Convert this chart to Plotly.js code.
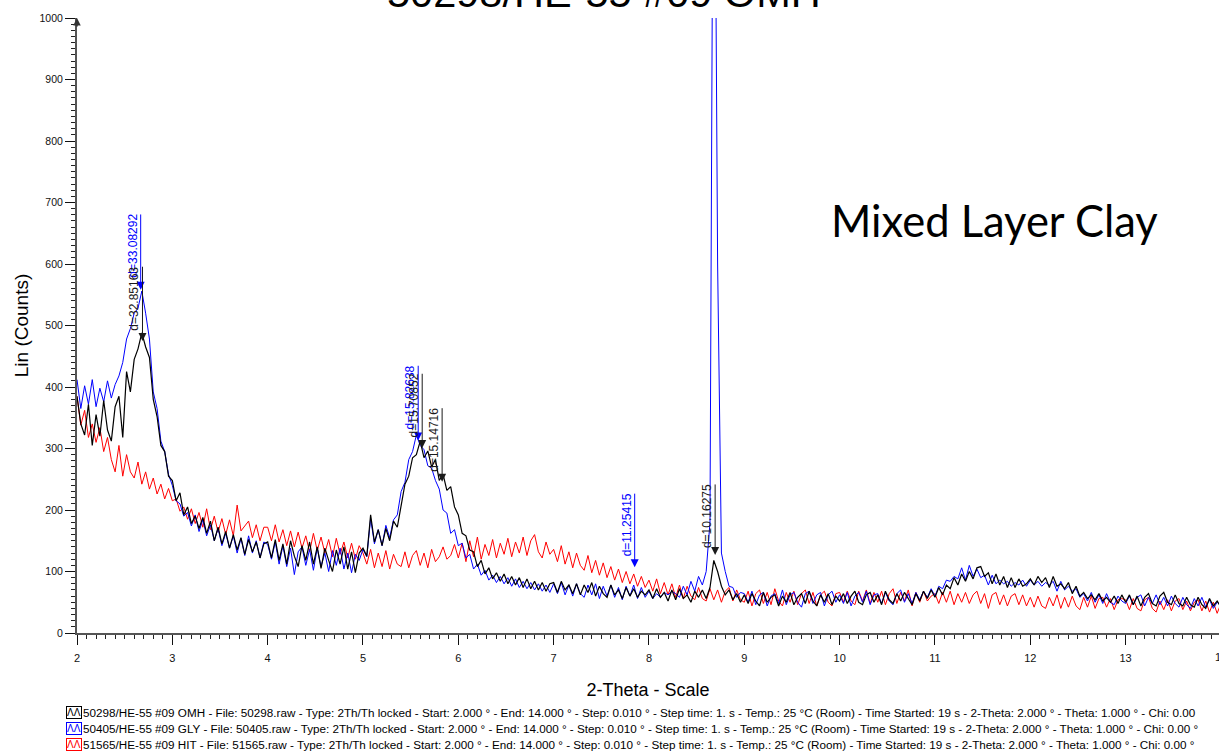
<!DOCTYPE html>
<html><head><meta charset="utf-8">
<script src="https://cdn.plot.ly/plotly-3.0.1.min.js"></script>
<style>html,body{margin:0;padding:0;background:#fff;overflow:hidden}#chart{width:1219px;height:753px}</style>
</head><body><div id="chart"></div>
<script>
// 2-Theta sampling of the scans (degrees)
const thetaStart = 2.0;
const thetaStep = 0.04;

// Counts, one value per 0.04 degrees from 2.00 to 14.00
const countsOMH = [
 385,340,322,372,305,355,320,378,330,312,368,385,318,425,392,445,462,488,465,448,380,352,305,295,255,
 248,215,228,192,205,178,190,170,188,162,182,150,172,145,165,138,160,135,155,128,152,132,148,122,145,
 148,122,152,118,145,112,150,125,108,142,118,148,112,140,105,138,118,100,135,112,140,104,132,98,130,
 138,125,192,148,168,142,170,150,182,172,210,242,255,285,290,312,285,296,270,282,248,258,232,238,205,
 192,162,158,135,132,108,118,96,106,88,98,84,96,80,92,78,90,74,88,72,84,70,82,68,80,
 82,66,84,70,78,64,80,62,78,66,82,60,76,64,58,78,62,70,56,74,60,72,58,68,62,
 70,56,72,58,66,52,70,54,72,56,62,50,68,58,70,56,74,118,100,76,62,70,54,64,50,
 62,48,64,52,44,66,50,58,62,44,60,50,66,46,58,64,48,68,52,44,62,50,64,46,60,
 52,64,48,60,68,50,46,62,66,50,62,46,68,54,48,64,52,66,56,46,64,52,68,56,70,
 58,74,62,78,72,90,78,96,84,100,88,106,108,92,98,80,96,78,92,74,90,74,88,76,80,
 88,78,92,82,90,74,92,76,80,72,82,64,76,60,66,56,62,54,64,52,58,50,60,48,62,
 50,62,46,60,44,58,64,48,44,60,66,50,46,62,48,44,58,46,42,58,46,40,56,44,52,42
];
const countsGLY = [
 412,365,402,372,412,368,398,376,410,382,404,418,440,478,495,520,528,556,520,478,392,365,312,295,258,
 240,215,210,190,196,174,192,165,184,158,176,150,170,142,162,138,158,130,154,126,158,130,150,122,148,
 144,120,148,112,142,108,138,95,132,140,110,136,102,138,108,130,100,134,110,138,104,130,98,128,118,
 136,124,186,145,168,142,175,155,184,192,230,245,282,295,322,305,298,272,268,248,234,200,195,162,168,
 142,146,122,128,104,112,94,102,86,94,82,92,80,90,76,88,74,84,72,82,70,80,68,78,66,
 80,64,82,62,78,60,80,64,58,78,62,80,56,76,60,78,58,74,54,76,60,78,56,74,58,
 68,56,64,58,66,62,68,64,58,76,62,84,68,92,78,100,180,1600,600,130,100,76,74,58,66,
 64,50,68,46,62,66,44,60,64,48,70,46,62,66,50,42,64,68,48,62,66,44,62,68,50,
 62,48,66,44,60,66,50,68,46,62,64,48,66,52,46,64,70,50,64,48,66,54,68,58,72,
 60,76,72,86,84,92,88,106,86,110,92,104,90,94,78,94,80,86,80,84,76,82,78,86,76,
 86,78,84,76,82,78,84,68,84,70,76,68,72,58,64,52,66,50,62,48,64,50,46,60,52,
 48,60,46,58,62,44,58,48,62,46,58,44,60,48,42,58,46,40,56,44,58,42,54,40,50,44
];
const countsHIT = [
 385,338,362,318,340,310,334,295,318,282,262,305,255,290,262,252,278,242,262,234,252,226,242,218,235,
 215,218,198,205,185,202,178,196,172,202,168,190,164,186,160,184,158,208,166,174,182,155,176,150,172,
 172,150,176,148,168,142,166,140,164,138,158,132,162,134,156,130,152,124,154,128,148,122,146,120,142,
 130,112,136,106,130,108,134,104,128,112,108,132,106,126,134,110,130,106,136,116,124,140,120,126,144,
 122,146,116,150,124,156,120,144,126,152,122,146,128,154,124,148,130,156,126,150,160,132,122,148,128,
 136,116,142,112,132,106,130,110,102,126,98,118,94,114,90,108,86,104,82,100,80,96,76,92,74,
 86,68,88,64,82,62,80,58,78,56,76,60,54,74,56,52,72,54,70,50,68,74,52,70,54,
 50,68,44,64,70,48,66,46,72,52,44,66,50,68,46,64,70,48,66,44,62,68,50,44,64,
 66,50,68,52,46,68,52,70,48,66,50,68,46,64,72,48,66,52,70,44,66,50,68,52,60,
 64,48,66,50,68,46,64,50,66,48,62,68,48,64,40,62,66,46,62,44,60,64,46,62,44,
 58,42,60,44,40,58,44,62,40,58,42,60,44,38,58,42,60,40,56,58,42,56,38,54,56,
 54,38,56,40,36,54,58,40,34,52,38,54,36,52,56,38,52,36,50,54,36,52,34,50,32,48
];

const seriesNames = [
 '50298/HE-55 #09 OMH - File: 50298.raw - Type: 2Th/Th locked - Start: 2.000 ° - End: 14.000 ° - Step: 0.010 ° - Step time: 1. s - Temp.: 25 °C (Room) - Time Started: 19 s - 2-Theta: 2.000 ° - Theta: 1.000 ° - Chi: 0.00',
 '50405/HE-55 #09 GLY - File: 50405.raw - Type: 2Th/Th locked - Start: 2.000 ° - End: 14.000 ° - Step: 0.010 ° - Step time: 1. s - Temp.: 25 °C (Room) - Time Started: 19 s - 2-Theta: 2.000 ° - Theta: 1.000 ° - Chi: 0.00 °',
 '51565/HE-55 #09 HIT - File: 51565.raw - Type: 2Th/Th locked - Start: 2.000 ° - End: 14.000 ° - Step: 0.010 ° - Step time: 1. s - Temp.: 25 °C (Room) - Time Started: 19 s - 2-Theta: 2.000 ° - Theta: 1.000 ° - Chi: 0.00 °'
];
const seriesColors = ['#000000', '#0000ff', '#ff0000'];

// d-spacing peak markers
const peakLabels = ['d=33.08292','d=32.85163','d=15.82638','d=15.70852','d=15.14716','d=11.25415','d=10.16275'];
const peakTheta  = [2.668, 2.687, 5.579, 5.621, 5.830, 7.850, 8.694];
const peakTip    = [558, 475, 313, 301, 246, 107, 127];
const peakTop    = [683, 598, 437, 424, 368, 229, 244];
const peakSeries = [1, 0, 1, 0, 0, 1, 0];

const titleText = '50298/HE-55 #09 OMH';
const noteText = 'Mixed Layer Clay';
const xTitle = '2-Theta - Scale';
const yTitle = 'Lin (Counts)';
const xTickVals = [2,3,4,5,6,7,8,9,10,11,12,13];
const xHalfTicks = [2.5,3.5,4.5,5.5,6.5,7.5,8.5,9.5,10.5,11.5,12.5,13.5];
const yTickVals = [0,100,200,300,400,500,600,700,800,900,1000];
const yHalfTicks = [50,150,250,350,450,550,650,750,850,950];

const W = 1219, H = 753, ML = 77, MR = 0, MT = 18, MB = 120;
const xMin = 2, xMax = 2 + (W - ML - MR) / 95.33;
const FONT = 'Liberation Sans, Arial, sans-serif';

const counts = [countsOMH, countsGLY, countsHIT];
const traces = [];
[2, 1, 0].forEach(i => {
  traces.push({
    type: 'scatter', mode: 'lines', x0: thetaStart, dx: thetaStep, y: counts[i],
    name: seriesNames[i], line: {color: seriesColors[i], width: i === 0 ? 1.2 : 1},
    showlegend: false, hoverinfo: 'skip'
  });
});

const px2paperX = p => (p - ML) / (W - ML - MR);
const px2paperY = p => (H - MB - p) / (H - MT - MB);

const annotations = [];
// title (cut off at the top as in the original)
annotations.push({xref: 'paper', yref: 'paper', x: px2paperX(604), y: 1, xanchor: 'center', yanchor: 'bottom',
  text: titleText, showarrow: false, font: {family: FONT, size: 41.5, color: '#000'}});
annotations.push({xref: 'paper', yref: 'paper', x: px2paperX(994), y: px2paperY(220), xanchor: 'center', yanchor: 'middle',
  text: noteText, showarrow: false, font: {family: 'Lato, sans-serif', size: 43.5, color: '#000'}});

// peak arrows + labels
peakLabels.forEach((lab, k) => {
  const c = seriesColors[peakSeries[k]] === '#000000' ? '#1a1a1a' : seriesColors[peakSeries[k]];
  annotations.push({xref: 'x', yref: 'y', axref: 'x', ayref: 'y', x: peakTheta[k], y: peakTip[k],
    ax: peakTheta[k], ay: peakTop[k], text: '', showarrow: true, arrowhead: 2, arrowsize: 1.6,
    arrowwidth: 1, arrowcolor: c, standoff: 0});
  annotations.push({xref: 'x', yref: 'y', x: peakTheta[k], y: peakTop[k], xanchor: 'right', yanchor: 'top',
    textangle: -90, text: lab, showarrow: false, borderpad: 0, font: {family: FONT, size: 12, color: c}});
});

// legend lines
const legendY = [712, 728, 744];
seriesNames.forEach((nm, i) => {
  annotations.push({xref: 'paper', yref: 'paper', x: px2paperX(74), y: px2paperY(legendY[i]), xanchor: 'center', yanchor: 'middle',
    text: 'ΛΛ', showarrow: false, bordercolor: seriesColors[i], borderwidth: 1, borderpad: 0,
    font: {family: FONT, size: 10, color: seriesColors[i]}});
  annotations.push({xref: 'paper', yref: 'paper', x: px2paperX(81), y: px2paperY(legendY[i]), xanchor: 'left', yanchor: 'middle',
    text: nm, showarrow: false, font: {family: FONT, size: 11.7, color: '#000'}});
});

// cut-off last tick label "14"
annotations.push({xref: 'paper', yref: 'paper', x: (14 - xMin) / (xMax - xMin), y: px2paperY(657), xanchor: 'center', yanchor: 'middle',
  text: '14', showarrow: false, font: {family: FONT, size: 11, color: '#111'}});

// axis end arrow
annotations.push({xref: 'paper', yref: 'paper', x: 0, y: 1, ax: 0, ay: 10, text: '', showarrow: true,
  arrowhead: 2, arrowsize: 1, arrowwidth: 1.5, arrowcolor: '#333', standoff: 0});

const layout = {
  width: W, height: H,
  margin: {l: ML, r: MR, t: MT, b: MB},
  paper_bgcolor: '#fff', plot_bgcolor: '#fff',
  font: {family: FONT, color: '#111'},
  showlegend: false,
  xaxis: {
    range: [xMin, xMax], tickvals: xTickVals, ticks: 'outside', ticklen: 10, tickwidth: 1, tickcolor: '#111',
    minor: {dtick: 0.1, tick0: 2, ticks: 'outside', ticklen: 4, tickwidth: 1, tickcolor: '#222', showgrid: false},
    showline: true, linecolor: '#555', linewidth: 2, showgrid: false, zeroline: false,
    ticklabelstandoff: 4,
    tickfont: {family: FONT, size: 11, color: '#111'},
    title: {text: xTitle, font: {family: FONT, size: 18, color: '#000'}, standoff: 20}
  },
  xaxis2: {
    overlaying: 'x', anchor: 'y', side: 'bottom', range: [xMin, xMax], tickvals: xHalfTicks, ticks: 'outside',
    ticklen: 7, tickwidth: 1, tickcolor: '#111', showticklabels: false, showline: false, showgrid: false, zeroline: false
  },
  yaxis: {
    range: [0, 1000], tickvals: yTickVals, ticks: 'outside', ticklen: 10, tickwidth: 1, tickcolor: '#111',
    minor: {dtick: 10, tick0: 0, ticks: 'outside', ticklen: 4, tickwidth: 1, tickcolor: '#222', showgrid: false},
    showline: true, linecolor: '#555', linewidth: 2, showgrid: false, zeroline: false,
    tickfont: {family: FONT, size: 10.5, color: '#111'},
    title: {text: yTitle, font: {family: FONT, size: 19, color: '#000'}, standoff: 6}
  },
  yaxis2: {
    overlaying: 'y', anchor: 'x', side: 'left', range: [0, 1000], tickvals: yHalfTicks, ticks: 'outside',
    ticklen: 7, tickwidth: 1, tickcolor: '#111', showticklabels: false, showline: false, showgrid: false, zeroline: false
  },
  annotations: annotations
};

Plotly.newPlot('chart', traces, layout, {displayModeBar: false, responsive: false});
</script>
</body></html>
